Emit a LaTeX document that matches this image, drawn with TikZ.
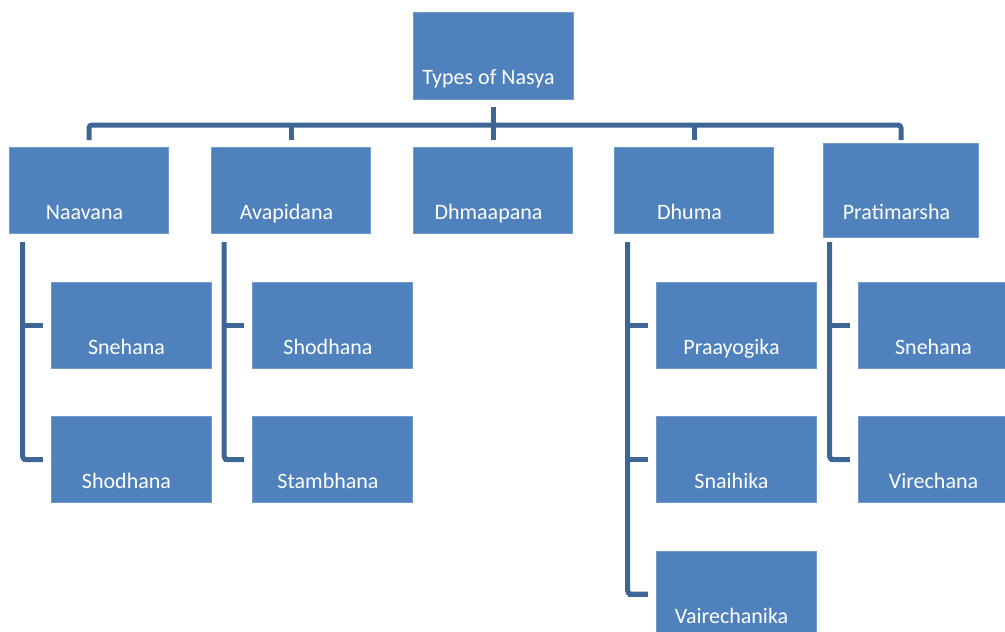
\documentclass[tikz,border=0pt]{standalone}
\usepackage{fontspec}
\setmainfont{Carlito}
\usetikzlibrary{positioning}
\definecolor{boxblue}{HTML}{4F81BD}
\definecolor{linkblue}{HTML}{3D6596}
\tikzset{
  typebox/.style={fill=boxblue, draw=boxblue!80!white, line width=0.6pt, text=white,
    inner sep=0pt, minimum width=159pt, minimum height=86pt,
    text height=72pt, text depth=14pt, font=\fontsize{22}{22}\selectfont,
    execute at begin node={\hspace*{-9pt}}},
  link/.style={draw=linkblue, line width=5pt, rounded corners=3pt}
}

\begin{document}
\begin{tikzpicture}[x=1pt,y=-1pt]
\useasboundingbox (0,0) rectangle (1005,632);
\clip (0,0) rectangle (1005,632);
% The root
\node[typebox, minimum width=160pt, minimum height=87pt] (root) at (493,55.5) {Types of Nasya};
% The five types
\node[typebox] (naavana) at (89,190) {Naavana};
\node[typebox] (avapidana) at (291,190) {Avapidana};
\node[typebox] (dhmaapana) at (493,190) {Dhmaapana};
\node[typebox] (dhuma) at (694,190) {Dhuma};
\node[typebox, minimum width=155pt, minimum height=94pt, text height=76pt, text depth=18pt] (pratimarsha) at (901,190) {Pratimarsha};
% The sub types
\node[typebox, minimum width=160pt] (naavana-1) at (131,325) {Snehana};
\node[typebox, minimum width=160pt] (naavana-2) at (131,459.5) {Shodhana};
\node[typebox, minimum width=160pt] (avapidana-1) at (332.5,325) {Shodhana};
\node[typebox, minimum width=160pt] (avapidana-2) at (332.5,459.5) {Stambhana};
\node[typebox, minimum width=160pt] (dhuma-1) at (736,325) {Praayogika};
\node[typebox, minimum width=160pt] (dhuma-2) at (736,459.5) {Snaihika};
\node[typebox, minimum width=160pt] (dhuma-3) at (736,594) {Vairechanika};
\node[typebox, minimum width=160pt] (pratimarsha-1) at (938,325) {Snehana};
\node[typebox, minimum width=160pt] (pratimarsha-2) at (938,459.5) {Virechana};

% The top bar
\coordinate (bar) at (493,125);
\coordinate (stub) at (0,140);
\coordinate (spine) at (0,242);
\draw[link] ([yshift=-8pt]root.south) -- (root |- stub);
\draw[link] (naavana |- stub) |- (bar) -| (pratimarsha |- stub);
\foreach \t in {avapidana,dhuma}
  \draw[link] (\t |- stub) -- (\t |- bar);
% The side spines
\foreach \p/\n in {naavana/2,avapidana/2,dhuma/3,pratimarsha/2}
{
  \draw[link] ([xshift=-28pt]\p-1.west |- spine) |- ([xshift=-8pt]\p-\n.west);
  \foreach \c in {1,...,\n}
    \draw[link] ([xshift=-28pt]\p-\c.west) -- ([xshift=-8pt]\p-\c.west);
}
\end{tikzpicture}
\end{document}
